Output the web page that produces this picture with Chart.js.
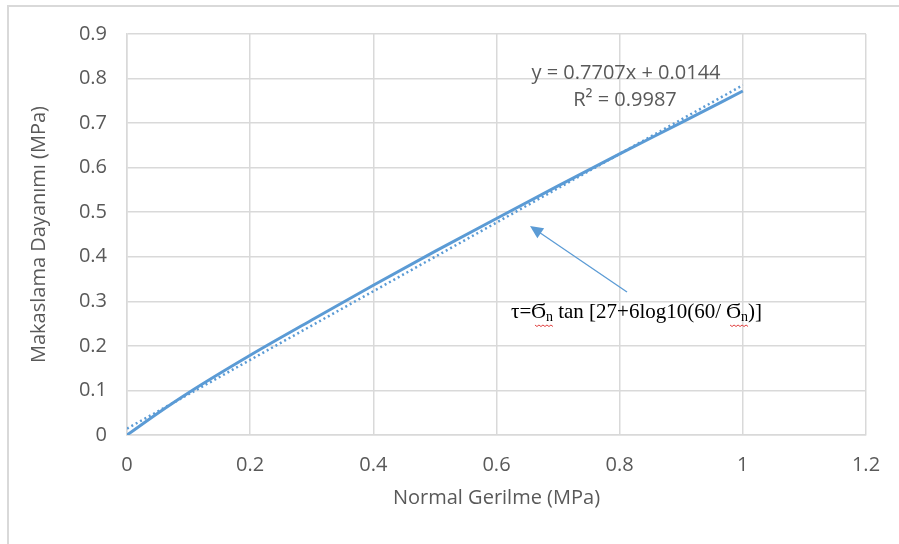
<!DOCTYPE html>
<html>
<head>
<meta charset="utf-8">
<script src="https://cdn.jsdelivr.net/npm/chart.js@4"></script>
<style>
  body { margin: 0; background: #fff; }
  #wrap { position: relative; width: 899px; height: 544px; overflow: hidden; }
  #frame { position: absolute; left: 7px; top: 5px; width: 900px; height: 560px;
           border-top: 2px solid #d9d9d9; border-left: 2px solid #d9d9d9; }
  canvas { position: absolute; left: 0; top: 0; }
</style>
</head>
<body>
<div id="wrap">
  <div id="frame"></div>
  <canvas id="chart" width="899" height="544"></canvas>
</div>
<script>
// ====================================
// VERİLER
// ====================================
const normalGerilme = [0, 0.05, 0.1, 0.2, 0.3, 0.4, 0.5, 0.6, 0.7, 0.8, 0.9, 1.0];
const makaslama     = [0, 0.049, 0.095, 0.179, 0.258, 0.336, 0.412, 0.486, 0.559, 0.631, 0.701, 0.772];

// trend çizgisi uç noktaları (y = 0.7707x + 0.0144)
const trendX = [0, 1.0];
const trendY = [0.0144, 0.7851];

const xTickLabels = ['0', '0.2', '0.4', '0.6', '0.8', '1', '1.2'];
const yTickLabels = ['0', '0.1', '0.2', '0.3', '0.4', '0.5', '0.6', '0.7', '0.8', '0.9'];

const MAVI = '#5b9bd5';
const GRI = '#595959';
const IZGARA = '#d9d9d9';
const YAZI = '"Open Sans", sans-serif';

// Grafik üstüne yazılar ve ok
const notlarPlugin = {
    id: 'notlar',
    afterDatasetsDraw(chart) {
        const ctx = chart.ctx;
        ctx.save();

        // denklem ve R²
        ctx.fillStyle = GRI;
        ctx.font = '20px ' + YAZI;
        ctx.textAlign = 'center';
        ctx.textBaseline = 'middle';
        ctx.fillText('y = 0.7707x + 0.0144', 626, 73);
        ctx.fillText('R² = 0.9987', 625, 100);

        // ok
        const x0 = 627, y0 = 292, x1 = 530, y1 = 226;
        const ang = Math.atan2(y1 - y0, x1 - x0);
        ctx.strokeStyle = MAVI;
        ctx.fillStyle = MAVI;
        ctx.lineWidth = 1.3;
        ctx.beginPath();
        ctx.moveTo(x0, y0);
        ctx.lineTo(x1 - 8 * Math.cos(ang), y1 - 8 * Math.sin(ang));
        ctx.stroke();
        ctx.beginPath();
        ctx.moveTo(x1, y1);
        ctx.lineTo(x1 - 13 * Math.cos(ang) + 6 * Math.sin(ang), y1 - 13 * Math.sin(ang) - 6 * Math.cos(ang));
        ctx.lineTo(x1 - 13 * Math.cos(ang) - 6 * Math.sin(ang), y1 - 13 * Math.sin(ang) + 6 * Math.cos(ang));
        ctx.closePath();
        ctx.fill();

        // formül
        const parcalar = [
            ['τ=Ϭ', false], ['n', true], [' tan [27+6log10(60/ Ϭ', false], ['n', true], [')]', false]
        ];
        ctx.textAlign = 'left';
        ctx.textBaseline = 'alphabetic';
        let x = 511;
        const yb = 318;
        parcalar.forEach(([t, alt]) => {
            ctx.font = alt ? '14px "Liberation Serif", serif' : '21px "Liberation Serif", serif';
            ctx.fillStyle = '#000';
            const w = ctx.measureText(t).width;
            ctx.fillText(t, x, alt ? yb + 3 : yb);
            if (alt) {
                // yazım denetimi dalgalı çizgisi
                ctx.strokeStyle = '#e04040';
                ctx.lineWidth = 1;
                ctx.beginPath();
                const sx = x - 11;
                for (let k = 0; sx + k <= x + w + 1; k += 2) {
                    const yy = yb + 7 + (k % 4 === 0 ? 0 : 1.5);
                    if (k === 0) ctx.moveTo(sx + k, yy); else ctx.lineTo(sx + k, yy);
                }
                ctx.stroke();
            }
            x += w;
        });

        ctx.restore();
    }
};

new Chart(document.getElementById('chart'), {
    type: 'scatter',
    data: {
        datasets: [
            {
                label: 'Makaslama',
                data: normalGerilme.map((v, i) => ({ x: v, y: makaslama[i] })),
                showLine: true,
                borderColor: MAVI,
                borderWidth: 3,
                pointRadius: 0,
                cubicInterpolationMode: 'monotone'
            },
            {
                label: 'Doğrusal',
                data: trendX.map((v, i) => ({ x: v, y: trendY[i] })),
                showLine: true,
                borderColor: MAVI,
                borderWidth: 2.5,
                borderDash: [2, 3],
                pointRadius: 0
            }
        ]
    },
    options: {
        responsive: false,
        devicePixelRatio: 1,
        animation: false,
        layout: { padding: { top: 34, right: 33, left: 0, bottom: 0 } },
        plugins: {
            legend: { display: false },
            tooltip: { enabled: false }
        },
        scales: {
            x: {
                type: 'linear',
                min: 0,
                max: 1.2,
                afterFit: s => { s.height = 109; },
                ticks: {
                    stepSize: 0.2,
                    color: GRI,
                    font: { family: YAZI, size: 20 },
                    padding: 18,
                    callback: (v, i) => xTickLabels[i]
                },
                grid: { color: IZGARA, lineWidth: 1.5, drawTicks: false },
                border: { color: IZGARA, width: 1.5 },
                title: {
                    display: true,
                    text: 'Normal Gerilme (MPa)',
                    color: GRI,
                    font: { family: YAZI, size: 20 },
                    padding: { bottom: 34 }
                }
            },
            y: {
                min: 0,
                max: 0.9,
                afterFit: s => { s.width = 127; },
                ticks: {
                    stepSize: 0.1,
                    color: GRI,
                    font: { family: YAZI, size: 20 },
                    padding: 20,
                    callback: (v, i) => yTickLabels[i]
                },
                grid: { color: IZGARA, lineWidth: 1.5, drawTicks: false },
                border: { color: IZGARA, width: 1.5 },
                title: {
                    display: true,
                    text: 'Makaslama Dayanımı (MPa)',
                    color: GRI,
                    font: { family: YAZI, size: 20 },
                    padding: { top: 27 }
                }
            }
        }
    },
    plugins: [notlarPlugin]
});
</script>
</body>
</html>
